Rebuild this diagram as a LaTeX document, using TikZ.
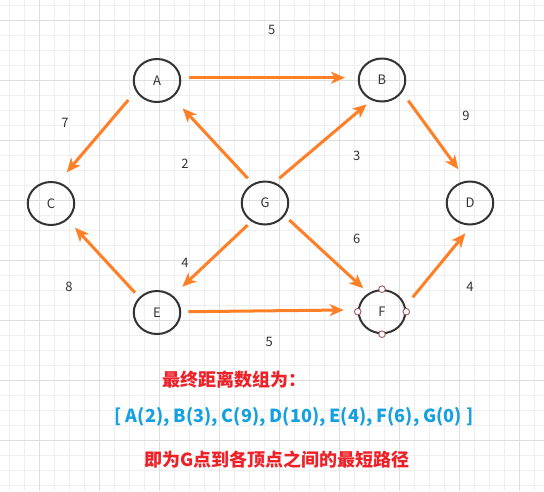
\documentclass[tikz,border=0pt]{standalone}
\usepackage{fontspec}
\setmainfont{Noto Sans CJK SC}
\newfontfamily\latinbold{Open Sans}
\usetikzlibrary{arrows.meta,shapes.geometric,calc}
\definecolor{arrowc}{HTML}{FF7F27}
\definecolor{nodec}{HTML}{333333}
\definecolor{txtred}{HTML}{EE2028}
\definecolor{txtblue}{HTML}{14A0E1}
\definecolor{gridminor}{HTML}{EFEFEF}
\definecolor{gridmajor}{HTML}{DEDEDE}
\definecolor{handlec}{HTML}{A0585A}
\begin{document}
\begin{tikzpicture}[x=1pt,y=-1pt,
  vert/.style={ellipse, draw=nodec, line width=2pt, minimum width=46.5pt, minimum height=43pt, inner sep=0pt, font=\fontsize{13}{15}\selectfont, text=nodec},
  arr/.style={draw=arrowc, line width=3pt, -{Stealth[length=14pt,width=12pt,inset=4pt]}},
  wlabel/.style={font=\fontsize{13}{15}\selectfont, text=nodec, inner sep=0pt},
  handle/.style={circle, draw=handlec, line width=0.9pt, fill=white, minimum size=6.6pt, inner sep=0pt},
  note/.style={font=\fontsize{18}{20}\selectfont\bfseries, inner sep=0pt}]
\useasboundingbox (0,0) rectangle (544,491);
\fill[white] (0,0) rectangle (544,491);
% grid
\foreach \x in {9.5,24.5,...,540} \draw[gridminor, line width=1pt] (\x,0) -- (\x,491);
\foreach \y in {5,20,...,490} \draw[gridminor, line width=1pt] (0,\y) -- (544,\y);
\foreach \x in {39.5,99.5,...,540} \draw[gridmajor, line width=1pt] (\x,0) -- (\x,491);
\foreach \y in {20,80,...,490} \draw[gridmajor, line width=1pt] (0,\y) -- (544,\y);
% vertices
\node[vert] (A) at (157,80.5) {A};
\node[vert] (B) at (382,80) {B};
\node[vert] (C) at (51,203.5) {C};
\node[vert] (G) at (265,203) {G};
\node[vert] (D) at (470,203) {D};
\node[vert] (E) at (157,312.5) {E};
\node[vert] (F) at (382,311.7) {F};
\foreach \a in {north,south,east,west} \node[handle] (F-\a) at (F.\a) {};
% edges
\draw[arr] ($(A)+(32,-2.8)$) -- ($(B)+(-37,-2.3)$);
\draw[arr] ($(A)+(-28.7,19.5)$) -- ($(C)+(15.7,-31.2)$);
\draw[arr] ($(G)+(-17.3,-24.7)$) -- ($(A)+(25.7,27.8)$);
\draw[arr] ($(G)+(14.3,-24.7)$) -- ($(B)+(-15.3,24.3)$);
\draw[arr] ($(B)+(26.3,20.7)$) -- ($(D)+(-11.7,-33.7)$);
\draw[arr] ($(G)+(-17.3,22)$) -- ($(E)+(25.3,-25.8)$);
\draw[arr] ($(G)+(24.3,17)$) -- ($(F)+(-18.7,-23.4)$);
\draw[arr] ($(E)+(-22,-19.8)$) -- ($(C)+(24,24.2)$);
\draw[arr] ($(E)+(31.3,-0.8)$) -- ($(F)+(-38.3,-1.7)$);
\draw[arr] ($(F)+(30.7,-14.4)$) -- ($(D)+(-4.7,30.3)$);
% weights
\node[wlabel] (wAB) at (271.7,30) {5};
\node[wlabel] (wAC) at (65,123.3) {7};
\node[wlabel] (wGA) at (185,163.3) {2};
\node[wlabel] (wGB) at (356.7,155.7) {3};
\node[wlabel] (wBD) at (466,116) {9};
\node[wlabel] (wGF) at (356.7,239.3) {6};
\node[wlabel] (wGE) at (185,263.3) {4};
\node[wlabel] (wEC) at (69,286.7) {8};
\node[wlabel] (wEF) at (269.3,341.7) {5};
\node[wlabel] (wFD) at (470,286.7) {4};
% notes
\node[note, text=txtred, anchor=west] (t1) at (162,380) {最终距离数组为：};
\node[note, text=txtblue] (t2) at (294,416.7) {[ A(2), B(3), C(9), D(10), E(4), F(6), G(0) ]};
\node[note, text=txtred, anchor=west] (t3) at (144,460) {即为G点到各顶点之间的最短路径};
\end{tikzpicture}
\end{document}
